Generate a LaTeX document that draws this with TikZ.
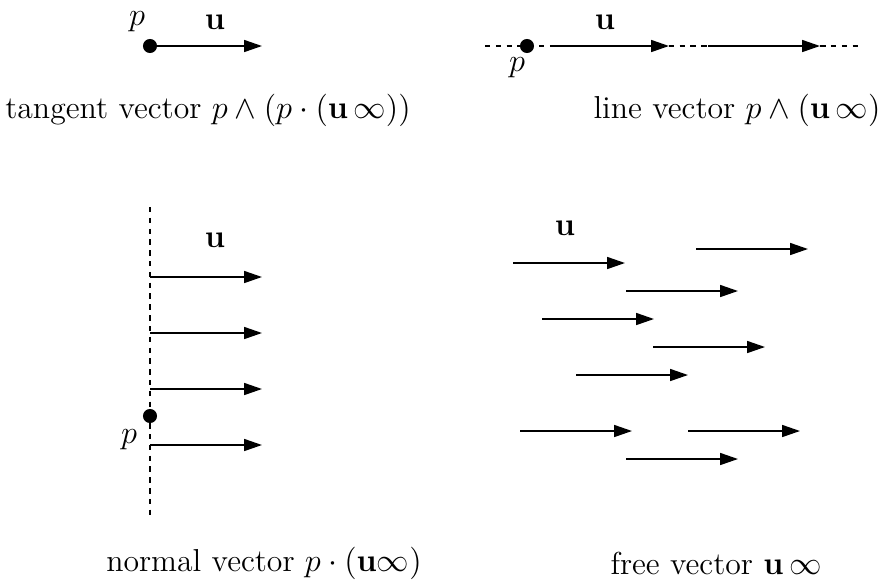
\documentclass[tikz,border=0pt]{standalone}
\usepackage{amsmath,amssymb}
\usetikzlibrary{arrows.meta,positioning}

\begin{document}
\begin{tikzpicture}[
    x=0.37pt, y=-0.37pt,
    font=\fontsize{11.75pt}{14pt}\selectfont,
    vec/.style={-{Triangle[length=6.6pt,width=4.4pt]}, line width=0.6pt},
    carrier/.style={dash pattern=on 2pt off 2pt, line width=0.45pt},
    point/.style={circle, fill, inner sep=0pt, minimum size=5.2pt},
    lbl/.style={inner sep=0pt}
]
    \useasboundingbox (0,0) rectangle (881,586);

    % Tangent vector
    \node[point] (tp) at (150,46) {};
    \coordinate (tu) at (262,46);
    \draw[vec] (tp.center) -- (tu);
    \node[lbl] (tp_label) at (137,22) {$p$};
    \node[lbl] (tu_label) at (215,22) {$\mathbf{u}$};
    \node[lbl] (tangent) at (208,110) {tangent vector $p\wedge(p\cdot(\mathbf{u}\,\infty))$};

    % Line vector
    \coordinate (l_start) at (485,46);
    \coordinate (l_end) at (862,46);
    \draw[carrier] (l_start) -- (l_end);
    \node[point] (lp) at (527,46) {};
    \coordinate (la1) at (553,46);
    \coordinate (lb1) at (669,46);
    \coordinate (la2) at (708,46);
    \coordinate (lb2) at (820,46);
    \draw[vec] (la1) -- (lb1);
    \draw[vec] (la2) -- (lb2);
    \node[lbl] (lp_label) at (517,68) {$p$};
    \node[lbl] (lu_label) at (605,22) {$\mathbf{u}$};
    \node[lbl] (line) at (737,110) {line vector $p\wedge(\mathbf{u}\,\infty)$};

    % Normal vector
    \coordinate (n_top) at (150,207);
    \coordinate (n_bot) at (150,515);
    \draw[carrier] (n_top) -- (n_bot);
    \foreach \y [count=\i] in {277,333,389,445} {
        \coordinate (na\i) at (150,\y);
        \coordinate (nb\i) at (262,\y);
        \draw[vec] (na\i) -- (nb\i);
    }
    \node[point] (np) at (150,416) {};
    \node[lbl] (np_label) at (129,440) {$p$};
    \node[lbl] (nu_label) at (215,240) {$\mathbf{u}$};
    \node[lbl] (normal) at (264,563) {normal vector $p\cdot(\mathbf{u}\infty)$};

    % Free vector
    \foreach \x/\y [count=\i] in {513/263, 696/249, 626/291, 542/319, 653/347,
                                  576/375, 520/431, 688/431, 626/459} {
        \coordinate (fa\i) at (\x,\y);
        \coordinate (fb\i) at (\x+112,\y);
        \draw[vec] (fa\i) -- (fb\i);
    }
    \node[lbl] (fu_label) at (565,228) {$\mathbf{u}$};
    \node[lbl] (free) at (716,563) {free vector $\mathbf{u}\,\infty$};
\end{tikzpicture}
\end{document}
